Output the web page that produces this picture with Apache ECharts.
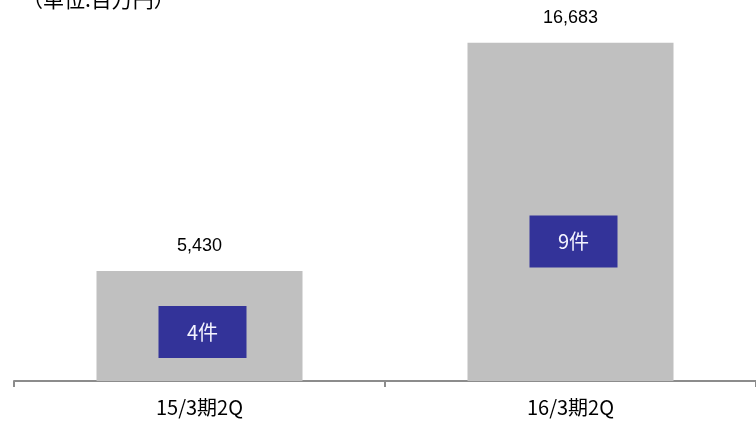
<!DOCTYPE html>
<html>
<head>
<meta charset="utf-8">
<script src="https://cdn.jsdelivr.net/npm/echarts@6/dist/echarts.min.js"></script>
<style>
html,body{margin:0;padding:0;background:#fff;}
#chart{width:756px;height:422px;}
</style>
</head>
<body>
<div id="chart"></div>
<script>
// Data
var categories = ['15/3期2Q', '16/3期2Q'];
var amounts = [5430, 16683];      // 百万円
var counts = [4, 9];              // 件数
var unitTitle = '（単位:百万円）';

// Layout: vertical anchor (in axis value units) of the count boxes
var BOX_ANCHOR = [2420, 6880];

var chart = echarts.init(document.getElementById('chart'), null, {renderer: 'canvas'});
var jp = '"Noto Sans CJK JP", "Noto Sans", sans-serif';
var latin = '"Liberation Sans", Arial, sans-serif';

chart.setOption({
  animation: false,
  backgroundColor: '#ffffff',
  title: {
    text: unitTitle,
    left: 17,
    top: -16,
    textStyle: {fontFamily: jp, fontSize: 21, fontWeight: 'normal', color: '#000'}
  },
  grid: {left: 14, right: -2, top: 16, bottom: 41, containLabel: false},
  xAxis: {
    type: 'category',
    data: categories,
    axisLine: {lineStyle: {color: '#8c8c8c', width: 2}},
    axisTick: {show: true, length: 6, lineStyle: {color: '#8c8c8c', width: 2}},
    axisLabel: {margin: 16, fontFamily: jp, fontSize: 20, color: '#000'}
  },
  yAxis: {
    type: 'value',
    min: 0,
    max: 18000,
    show: false,
    splitLine: {show: false}
  },
  series: [
    {
      type: 'bar',
      data: amounts,
      barWidth: 206,
      itemStyle: {color: '#c0c0c0'},
      label: {
        show: true,
        position: 'top',
        distance: 16,
        fontFamily: latin,
        fontSize: 18,
        color: '#000',
        formatter: function (p) { return p.value.toLocaleString('en-US'); }
      },
      z: 2
    },
    {
      type: 'scatter',
      data: categories.map(function (c, i) { return [c, BOX_ANCHOR[i], counts[i]]; }),
      symbol: 'rect',
      symbolSize: [88, 52],
      symbolOffset: [3, 0],
      itemStyle: {color: '#333399', opacity: 1},
      label: {
        show: true,
        position: 'inside',
        fontFamily: jp,
        fontSize: 20,
        color: '#f4f4ff',
        formatter: function (p) { return p.value[2] + '件'; }
      },
      z: 5
    }
  ]
});
</script>
</body>
</html>
